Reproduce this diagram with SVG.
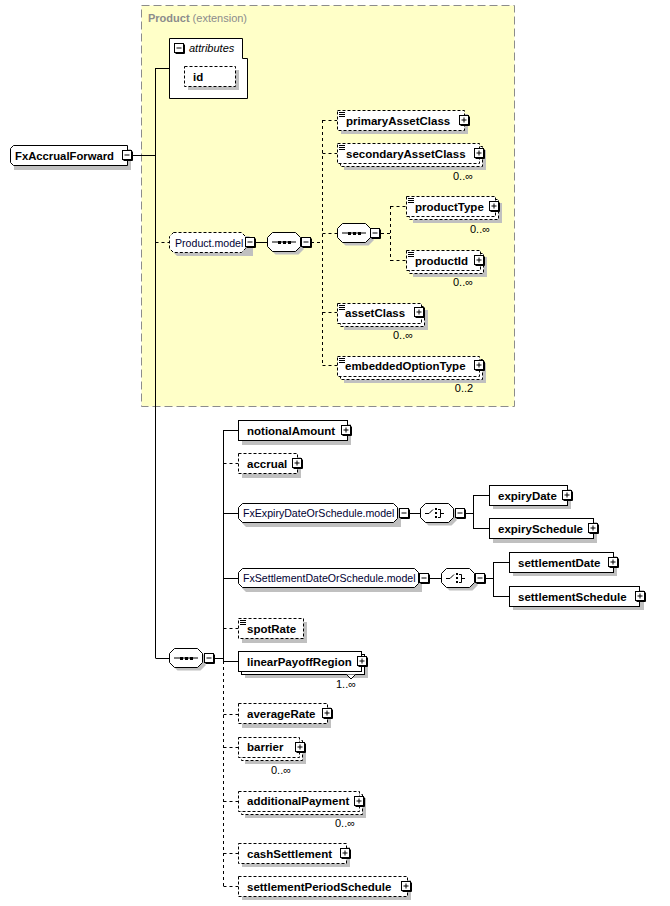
<svg xmlns="http://www.w3.org/2000/svg" xmlns:xlink="http://www.w3.org/1999/xlink" width="670" height="906" viewBox="0 0 670 906">
<style>
.sh{fill:#c0c0c0;stroke:none}
.bx{fill:#fff;stroke:#000;stroke-width:1}
.db{fill:#fff;stroke:#000;stroke-width:1;stroke-dasharray:3,2}
.ln{stroke:#000;fill:none;stroke-width:1}
.dl{stroke:#000;fill:none;stroke-width:1;stroke-dasharray:3,3}
.t{font-family:"Liberation Sans",Arial,sans-serif;font-size:11.5px;font-weight:bold;fill:#000}
.m{font-family:"Liberation Sans",Arial,sans-serif;font-size:10.6px;fill:#000033}
.o{font-family:"Liberation Sans",Arial,sans-serif;font-size:11px;fill:#000;text-anchor:middle}
.ti{font-family:"Liberation Sans",Arial,sans-serif;font-size:11px;fill:#8c8c8c}
.ic{stroke:#000;stroke-width:1;fill:none}
</style>
<defs>
<g id="pl"><rect x="0.5" y="0.5" width="9" height="9" fill="#fff" stroke="#000"/><path d="M10.5 1.5V10.5H1.5" stroke="#000" fill="none"/><path d="M2.5 5H7.5M5 2.5V7.5" stroke="#000" fill="none"/></g>
<g id="mi"><rect x="0.5" y="0.5" width="9" height="9" fill="#fff" stroke="#000"/><path d="M10.5 1.5V10.5H1.5" stroke="#000" fill="none"/><path d="M2.5 5H7.5" stroke="#000" fill="none"/></g>
<path id="cmp" d="M5.5 0.5H28.5L33.5 5.5V14.5L28.5 19.5H5.5L0.5 14.5V5.5Z"/>
<g id="seq"><use xlink:href="#cmp" x="3" y="3" class="sh"/><use xlink:href="#cmp" class="bx"/><path d="M5 10H29" class="ic"/><rect x="11" y="9" width="3" height="3" fill="#000"/><rect x="16" y="9" width="3" height="3" fill="#000"/><rect x="21" y="9" width="3" height="3" fill="#000"/></g>
<g id="cho"><use xlink:href="#cmp" x="3" y="3" class="sh"/><use xlink:href="#cmp" class="bx"/><path d="M5 10.5H9L13 6.5" class="ic"/><rect x="15" y="5" width="2" height="2" fill="#000"/><rect x="15" y="9" width="2" height="2" fill="#000"/><rect x="15" y="13" width="2" height="2" fill="#000"/><path d="M18 6.5H20.5V14.5H18M20.5 10.5H24" class="ic"/></g>
<path id="lst" d="M0 0H6M0 2H6M0 4H6" stroke="#000" stroke-width="1"/>
</defs>

<g id="product-extension">
<rect x="141.5" y="5.5" width="373" height="401" fill="#ffffc8" stroke="#8c8c8c" stroke-dasharray="8,4"/>
<text x="148" y="22" class="ti"><tspan font-weight="bold">Product</tspan> (extension)</text>
</g>

<g id="connectors">
<path class="ln" d="M132 155.5H155.5M155.5 68V658M155.5 68.5H169M155.5 658.5H169"/>
<path class="dl" d="M155.5 242.5H169"/>
<path class="ln" d="M255 242.5H267"/>
<path class="dl" d="M311 242.5H322.5M322.5 120V366M322.5 120.5H337M322.5 153.5H337M322.5 233.5H337M322.5 312.5H337M322.5 365.5H337"/>
<path class="dl" d="M381 233.5H390.5M390.5 206V261M390.5 206.5H406M390.5 260.5H406"/>
<path class="ln" d="M214 658.5H223.5M223.5 430V661"/>
<path class="dl" d="M223.5 661V886.5"/>
<path class="ln" d="M223.5 430.5H238M223.5 513.5H238M223.5 578.5H238M223.5 661.5H238"/>
<path class="dl" d="M223.5 463.5H238M223.5 628.5H238M223.5 714.5H238M223.5 747.5H238M223.5 801.5H238M223.5 853.5H238M223.5 886.5H238"/>
<path class="ln" d="M410 513.5H420M466 513.5H473.5M473.5 495V529M473.5 495.5H489M473.5 528.5H489"/>
<path class="ln" d="M430 578.5H441M486 578.5H493.5M493.5 562V597M493.5 562.5H509M493.5 596.5H509"/>
</g>

<g id="FxAccrualForward">
<path class="sh" d="M17 149H131V170H14V152Z"/>
<path class="bx" d="M13.5 145.5H127.5V165.5H13.5L10.5 162.5V148.5Z"/>
<text x="15" y="160" class="t" textLength="99" lengthAdjust="spacingAndGlyphs">FxAccrualForward</text>
<use xlink:href="#mi" x="122" y="150"/>
</g>

<g id="attributes">
<path class="bx" d="M169.5 38.5H242.5V58.5H247.5V98.5H169.5Z"/>
<use xlink:href="#mi" x="174" y="43"/>
<text x="189" y="52" class="ti" style="fill:#000;font-style:italic">attributes</text>
<rect class="sh" x="188" y="70" width="51" height="20"/>
<rect class="db" x="184.5" y="66.5" width="51" height="20"/>
<text x="193" y="81" class="t">id</text>
</g>

<g id="Product.model">
<path class="sh" d="M177 236H249L253 240V256H177L173 252V240Z"/>
<path class="db" d="M173.5 232.5H241.5L245.5 236.5V248.5L241.5 252.5H173.5L169.5 248.5V236.5Z"/>
<text x="175" y="246.5" class="m">Product.model</text>
<use xlink:href="#mi" x="245" y="237"/>
</g>

<g id="seq-product"><use xlink:href="#seq" x="267" y="232"/><use xlink:href="#mi" x="301" y="237"/></g>
<g id="seq-inner"><use xlink:href="#seq" x="337" y="223"/><use xlink:href="#mi" x="370" y="228"/></g>

<g id="primaryAssetClass">
<rect class="sh" x="341" y="114" width="127" height="20"/>
<rect class="db" x="337.5" y="110.5" width="127" height="20"/>
<use xlink:href="#lst" x="339" y="112.5"/>
<text x="346" y="125" class="t">primaryAssetClass</text>
<use xlink:href="#pl" x="459" y="115"/>
</g>

<g id="secondaryAssetClass">
<rect class="sh" x="344" y="150" width="142" height="20"/>
<rect class="db" x="340.5" y="146.5" width="142" height="20"/>
<rect class="db" x="337.5" y="143.5" width="142" height="20"/>
<use xlink:href="#lst" x="339" y="145.5"/>
<text x="346" y="158" class="t">secondaryAssetClass</text>
<use xlink:href="#pl" x="474" y="148"/>
<text x="463" y="180" class="o">0..∞</text>
</g>

<g id="productType">
<rect class="sh" x="413" y="203" width="89" height="20"/>
<rect class="db" x="409.5" y="199.5" width="89" height="20"/>
<rect class="db" x="406.5" y="196.5" width="89" height="20"/>
<use xlink:href="#lst" x="408" y="198.5"/>
<text x="415" y="211" class="t">productType</text>
<use xlink:href="#pl" x="489" y="201"/>
<text x="480" y="233" class="o">0..∞</text>
</g>

<g id="productId">
<rect class="sh" x="413" y="257" width="74" height="20"/>
<rect class="db" x="409.5" y="253.5" width="74" height="20"/>
<rect class="db" x="406.5" y="250.5" width="74" height="20"/>
<use xlink:href="#lst" x="408" y="252.5"/>
<text x="415" y="265" class="t">productId</text>
<use xlink:href="#pl" x="474" y="255"/>
<text x="463" y="286" class="o">0..∞</text>
</g>

<g id="assetClass">
<rect class="sh" x="344" y="310" width="84" height="20"/>
<rect class="db" x="340.5" y="306.5" width="84" height="20"/>
<rect class="db" x="337.5" y="303.5" width="84" height="20"/>
<use xlink:href="#lst" x="339" y="305.5"/>
<text x="345" y="317" class="t">assetClass</text>
<use xlink:href="#pl" x="414" y="307"/>
<text x="403" y="339" class="o">0..∞</text>
</g>

<g id="embeddedOptionType">
<rect class="sh" x="344" y="363" width="142" height="20"/>
<rect class="db" x="340.5" y="359.5" width="142" height="20"/>
<rect class="db" x="337.5" y="356.5" width="142" height="20"/>
<use xlink:href="#lst" x="339" y="358.5"/>
<text x="345" y="370" class="t">embeddedOptionType</text>
<use xlink:href="#pl" x="474" y="360"/>
<text x="464" y="392" class="o">0..2</text>
</g>

<g id="seq-main"><use xlink:href="#seq" x="169" y="648"/><use xlink:href="#mi" x="204" y="653"/></g>

<g id="notionalAmount">
<rect class="sh" x="242" y="424" width="109" height="21"/>
<rect class="bx" x="238.5" y="420.5" width="109" height="20"/>
<text x="247" y="435" class="t">notionalAmount</text>
<use xlink:href="#pl" x="341" y="425"/>
</g>

<g id="accrual">
<rect class="sh" x="242" y="457" width="59" height="21"/>
<rect class="db" x="238.5" y="453.5" width="59" height="20"/>
<text x="247" y="468" class="t">accrual</text>
<use xlink:href="#pl" x="292" y="458"/>
</g>

<g id="FxExpiryDateOrSchedule.model">
<path class="sh" d="M246 507H397L401 511V527H246L242 523V511Z"/>
<path class="bx" d="M242.5 503.5H393.5L397.5 507.5V518.5L393.5 522.5H242.5L238.5 518.5V507.5Z"/>
<text x="243" y="517" class="m">FxExpiryDateOrSchedule.model</text>
<use xlink:href="#mi" x="399" y="508"/>
</g>
<g id="choice-expiry"><use xlink:href="#cho" x="420" y="503"/><use xlink:href="#mi" x="455" y="508"/></g>

<g id="expiryDate">
<rect class="sh" x="493" y="489" width="78" height="20"/>
<rect class="bx" x="489.5" y="485.5" width="78" height="20"/>
<text x="498" y="500" class="t">expiryDate</text>
<use xlink:href="#pl" x="562" y="490"/>
</g>
<g id="expirySchedule">
<rect class="sh" x="493" y="522" width="104" height="21"/>
<rect class="bx" x="489.5" y="518.5" width="104" height="20"/>
<text x="498" y="533" class="t">expirySchedule</text>
<use xlink:href="#pl" x="588" y="523"/>
</g>

<g id="FxSettlementDateOrSchedule.model">
<path class="sh" d="M246 572H418L422 576V592H246L242 588V576Z"/>
<path class="bx" d="M242.5 568.5H414.5L418.5 572.5V583.5L414.5 587.5H242.5L238.5 583.5V572.5Z"/>
<text x="243" y="582" class="m">FxSettlementDateOrSchedule.model</text>
<use xlink:href="#mi" x="419" y="573"/>
</g>
<g id="choice-settlement"><use xlink:href="#cho" x="441" y="568"/><use xlink:href="#mi" x="475" y="573"/></g>

<g id="settlementDate">
<rect class="sh" x="513" y="556" width="104" height="20"/>
<rect class="bx" x="509.5" y="552.5" width="104" height="20"/>
<text x="518" y="567" class="t">settlementDate</text>
<use xlink:href="#pl" x="608" y="557"/>
</g>
<g id="settlementSchedule">
<rect class="sh" x="513" y="590" width="131" height="20"/>
<rect class="bx" x="509.5" y="586.5" width="130" height="20"/>
<text x="518" y="601" class="t">settlementSchedule</text>
<use xlink:href="#pl" x="635" y="591"/>
</g>

<g id="spotRate">
<rect class="sh" x="242" y="622" width="65" height="21"/>
<rect class="db" x="238.5" y="618.5" width="65" height="20"/>
<use xlink:href="#lst" x="240" y="620.5"/>
<text x="247" y="633" class="t">spotRate</text>
</g>

<g id="linearPayoffRegion">
<rect class="sh" x="245" y="658" width="123" height="20"/>
<rect class="bx" x="241.5" y="654.5" width="123" height="20"/>
<rect class="bx" x="238.5" y="651.5" width="123" height="20"/>
<text x="247" y="666" class="t">linearPayoffRegion</text>
<use xlink:href="#pl" x="357" y="656"/>
<path d="M346.5 674.5L351 679L355.5 674.5" fill="#fff" stroke="#000"/>
<text x="346" y="688" class="o">1..∞</text>
</g>

<g id="averageRate">
<rect class="sh" x="242" y="707" width="89" height="21"/>
<rect class="db" x="238.5" y="703.5" width="89" height="20"/>
<text x="247" y="718" class="t">averageRate</text>
<use xlink:href="#pl" x="322" y="708"/>
</g>

<g id="barrier">
<rect class="sh" x="245" y="744" width="61" height="20"/>
<rect class="db" x="241.5" y="740.5" width="61" height="20"/>
<rect class="db" x="238.5" y="737.5" width="61" height="20"/>
<text x="247" y="751" class="t">barrier</text>
<use xlink:href="#pl" x="295" y="742"/>
<text x="281" y="774" class="o">0..∞</text>
</g>

<g id="additionalPayment">
<rect class="sh" x="245" y="798" width="121" height="20"/>
<rect class="db" x="241.5" y="794.5" width="121" height="20"/>
<rect class="db" x="238.5" y="791.5" width="121" height="20"/>
<text x="247" y="805" class="t">additionalPayment</text>
<use xlink:href="#pl" x="354" y="796"/>
<text x="345" y="827" class="o">0..∞</text>
</g>

<g id="cashSettlement">
<rect class="sh" x="242" y="847" width="108" height="20"/>
<rect class="db" x="238.5" y="843.5" width="108" height="20"/>
<text x="247" y="858" class="t">cashSettlement</text>
<use xlink:href="#pl" x="340" y="848"/>
</g>

<g id="settlementPeriodSchedule">
<rect class="sh" x="242" y="880" width="169" height="20"/>
<rect class="db" x="238.5" y="876.5" width="169" height="20"/>
<text x="247" y="891" class="t">settlementPeriodSchedule</text>
<use xlink:href="#pl" x="401" y="881"/>
</g>
</svg>
